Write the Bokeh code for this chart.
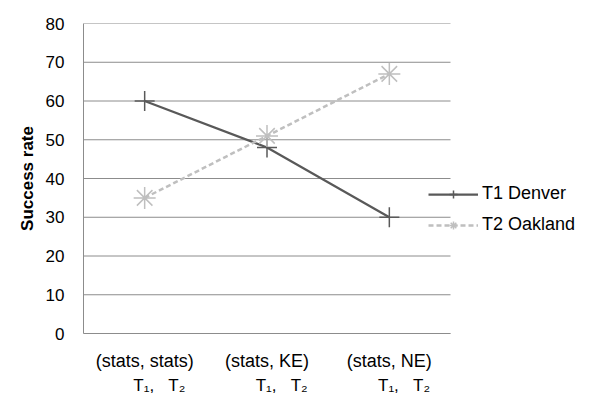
from bokeh.plotting import figure
from bokeh.models import Range1d, LinearAxis, Legend, LegendItem, FixedTicker
from bokeh.embed import file_html
from bokeh.resources import INLINE

# ---- data ----
categories = ["(stats, stats)", "(stats, KE)", "(stats, NE)"]
sub_labels = ["T\u2081,\u00a0\u00a0\u00a0T\u2082", "T\u2081,\u00a0\u00a0\u00a0T\u2082", "T\u2081,\u00a0\u00a0\u00a0T\u2082"]
denver = [60, 48, 30]
oakland = [35, 51, 67]
y_ticks = [0, 10, 20, 30, 40, 50, 60, 70, 80]
series_names = ["T1 Denver", "T2 Oakland"]

FONT = "Liberation Sans"
DARK = "#595959"
LIGHT = "#BFBFBF"
GRID = "#8c8c8c"

n = len(categories)
xpos = [i + 0.5 for i in range(n)]  # centre of each category slot
x_end = n * 506 / 367               # extra room on the right for the legend

p = figure(
    x_range=Range1d(0, x_end),
    y_range=Range1d(0, 80),
    frame_width=506, frame_height=310,
    output_backend="svg", toolbar_location=None,
    min_border_left=83, min_border_right=0,
    min_border_top=23, min_border_bottom=50,
)

# horizontal gridlines only across the category area
p.xgrid.visible = False
p.ygrid.visible = False
p.segment(x0=0, x1=n, y0=y_ticks, y1=y_ticks, line_color=GRID, line_width=1)
p.outline_line_color = None

r1 = p.line(xpos, denver, line_color=DARK, line_width=2.25)
m1 = p.scatter(xpos, denver, marker="cross", size=20, line_color=DARK, line_width=1.5)
r2 = p.line(xpos, oakland, line_color=LIGHT, line_width=2.5, line_dash="5 3")
m2 = p.scatter(xpos, oakland, marker="asterisk", size=22, line_color=LIGHT, line_width=1.5)

# y axis
p.yaxis.ticker = y_ticks
p.yaxis.axis_line_color = GRID
p.yaxis.major_tick_line_color = None
p.yaxis.minor_tick_line_color = None
p.yaxis.major_label_text_font = FONT
p.yaxis.major_label_text_font_size = "17px"
p.yaxis.major_label_text_color = "black"
p.yaxis.major_label_standoff = 13
p.yaxis.axis_label = "Success rate"
p.yaxis.axis_label_text_font = FONT
p.yaxis.axis_label_text_font_style = "bold"
p.yaxis.axis_label_text_font_size = "17px"
p.yaxis.axis_label_text_color = "black"
p.yaxis.axis_label_standoff = 6

# x axis (first line: category names)
xa = p.xaxis[0]
xa.bounds = (0, n)
xa.ticker = FixedTicker(ticks=xpos, minor_ticks=[])
xa.major_label_overrides = {pos: c for pos, c in zip(xpos, categories)}
xa.axis_line_color = GRID
xa.major_tick_line_color = None
xa.minor_tick_line_color = None
xa.major_label_text_font = FONT
xa.major_label_text_font_size = "18px"
xa.major_label_text_color = "black"
xa.major_label_standoff = 11

# x axis (second line): same category slots, labels shifted slightly right
shift = 0.12
p.extra_x_ranges = {"sub": Range1d(-shift, x_end - shift)}
ax2 = LinearAxis(
    x_range_name="sub",
    ticker=FixedTicker(ticks=xpos, minor_ticks=[]),
    major_label_overrides={pos: s for pos, s in zip(xpos, sub_labels)},
    axis_line_color=None,
    major_tick_line_color=None,
    minor_tick_line_color=None,
    major_label_text_font=FONT,
    major_label_text_font_size="17px",
    major_label_text_color="black",
    major_label_standoff=-4,
)
p.add_layout(ax2, "below")

legend = Legend(
    items=[LegendItem(label=series_names[0], renderers=[r1, m1]),
           LegendItem(label=series_names[1], renderers=[r2, m2])],
    location=(345, 98),
    orientation="vertical",
    glyph_width=50, glyph_height=20, label_height=20,
    spacing=10, label_standoff=4, padding=0, margin=0,
    border_line_color=None, background_fill_alpha=0,
    label_text_font=FONT, label_text_font_size="18px", label_text_color="black",
)
p.add_layout(legend)

open("out.html", "w").write(file_html(p, INLINE))
